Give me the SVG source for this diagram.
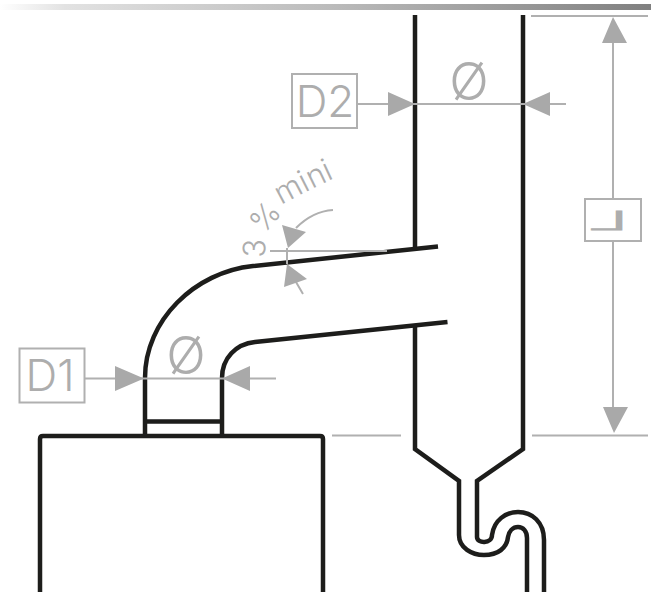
<svg xmlns="http://www.w3.org/2000/svg" width="651" height="598" viewBox="0 0 651 598">
<style>
.k{fill:none;stroke:#1d1d1b;stroke-width:4.500}
.g{fill:none;stroke:#b0b0b0;stroke-width:2}
.a{fill:#a9a9a9;stroke:none}
.t{fill:#adadad;font-family:"Inter","Lato",sans-serif;font-weight:300}
</style>
<defs>
<linearGradient id="bar" x1="0" x2="1" y1="0" y2="0"><stop offset="0" stop-color="#ffffff"/><stop offset="0.1" stop-color="#e2e2e2"/><stop offset="0.5" stop-color="#bcbcbc"/><stop offset="1" stop-color="#808080"/></linearGradient>
</defs>
<rect id="top-bar" x="0" y="4" width="651" height="6" fill="url(#bar)"/>
<g id="chimney">
<path class="k" d="M415,15V247M523,15V449L477,481V537C477,544 492,544 492,535C494,520 506,512 518,512C532,512 544,522 544,540V592"/>
<path class="k" d="M415,327V449L459,481V535C459,548 472,555 484,555C498,555 507,548 508,537C509,531 513,527 518,527C523,527 527,531 527,538V592"/>
</g>
<g id="flue">
<path class="k" d="M438,246.500L253,266C195,272 145,320 145,378V436M447.500,322L255,342C236,344 222,358 222,378V436M145,421.500H222"/>
</g>
<g id="boiler"><path class="k" d="M40,592V439Q40,436 43,436H320Q323,436 323,439V592"/></g>
<g id="connectors">
<path class="g" d="M357,104H566M85,378.500H276M270,251H387M287,248V264M531,16H648M613,40V199M613,241V410M332,435.500H401M532,435.500H648"/>
<path class="g" d="M296,228C306,218 318,211 333,210M296,282L303,294"/>
<path class="a" d="M388,92L415,104L388,116ZM550,92L523,104L550,116ZM115,366L144,378.500L115,391ZM250,366L222,378.500L250,391ZM613,17L627,43H602ZM614,433L603,407H628ZM288,248L282,225L306,232ZM287,264L284,287L307,279Z"/>
</g>
<g id="label-d2"><rect class="g" x="292" y="74" width="65" height="54"/><text class="t" x="325" y="117" font-size="44" text-anchor="middle">D2</text></g>
<g id="label-d1"><rect class="g" x="19.500" y="348.500" width="65" height="54"/><text class="t" x="50" y="391" font-size="44" text-anchor="middle">D1</text></g>
<g id="label-l"><rect class="g" x="585" y="199" width="56" height="42"/><text class="t" font-size="26" transform="translate(628,230) scale(-2.700,1)" stroke="#adadad" stroke-width="2.500" vector-effect="non-scaling-stroke" style="font-weight:200">L</text></g>
<g id="dia"><text class="t" x="469" y="100" font-size="52" text-anchor="middle">Ø</text><text class="t" x="186" y="374" font-size="52" text-anchor="middle">Ø</text></g>
<text class="t" font-size="31" x="265 265 264 279 281 305 312 328" y="258 240 235 213 205 192.500 189 181" rotate="-88 -70 -50 -35 -28 -27 -26 -25">3 % mini</text>
</svg>
